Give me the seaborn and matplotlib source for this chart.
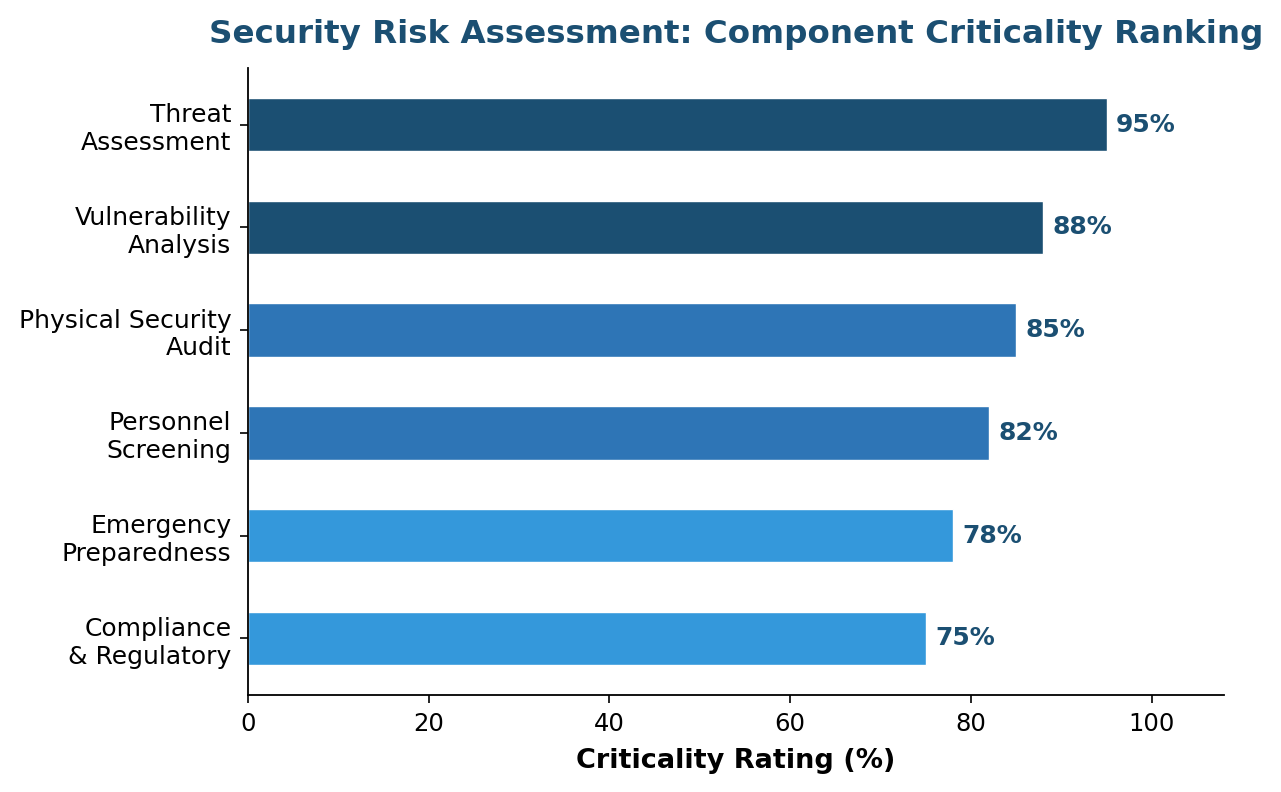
import matplotlib
matplotlib.use("Agg")
import matplotlib.pyplot as plt
import seaborn as sns

# --- Data ---
components = [
    "Threat\nAssessment",
    "Vulnerability\nAnalysis",
    "Physical Security\nAudit",
    "Personnel\nScreening",
    "Emergency\nPreparedness",
    "Compliance\n& Regulatory",
]
ratings = [95, 88, 85, 82, 78, 75]
bar_colors = ["#1b4f72", "#1b4f72", "#2e75b6", "#2e75b6", "#3498db", "#3498db"]

TITLE_COLOR = "#1b4f72"

sns.set_style("white")
plt.rcParams["font.family"] = ["DejaVu Sans"]
plt.rcParams["text.color"] = "black"
plt.rcParams["axes.labelcolor"] = "black"
plt.rcParams["xtick.color"] = "black"
plt.rcParams["ytick.color"] = "black"

fig, ax = plt.subplots(figsize=(12.81, 7.92), dpi=100)
fig.subplots_adjust(left=0.1936, right=0.9555, top=0.9141, bottom=0.1225)

sns.barplot(
    x=ratings, y=components, hue=components, palette=bar_colors,
    saturation=1, legend=False, orient="h", width=0.52,
    edgecolor="white", linewidth=1, ax=ax,
)

# value labels
for container in ax.containers:
    ax.bar_label(
        container,
        labels=[f"{v:.0f}%" for v in container.datavalues],
        padding=7, fontsize=18, fontweight="bold", color=TITLE_COLOR,
    )

ax.set_xlim(0, 108)
ax.set_ylim(5.55, -0.55)
ax.set_xticks([0, 20, 40, 60, 80, 100])

ax.set_title("Security Risk Assessment: Component Criticality Ranking",
             fontsize=23.4, fontweight="bold", color=TITLE_COLOR, pad=18)
ax.set_xlabel("Criticality Rating (%)", fontsize=19.5, fontweight="bold", labelpad=9)
ax.set_ylabel("")

ax.tick_params(axis="x", labelsize=17.5, length=6, width=1.2, pad=6, bottom=True)
ax.tick_params(axis="y", labelsize=18, length=6, width=1.2, pad=6, left=True)
sns.despine(ax=ax)
for s in ["left", "bottom"]:
    ax.spines[s].set_linewidth(1.3)
    ax.spines[s].set_color("black")

fig.savefig("out.png", dpi=100)
plt.close(fig)
